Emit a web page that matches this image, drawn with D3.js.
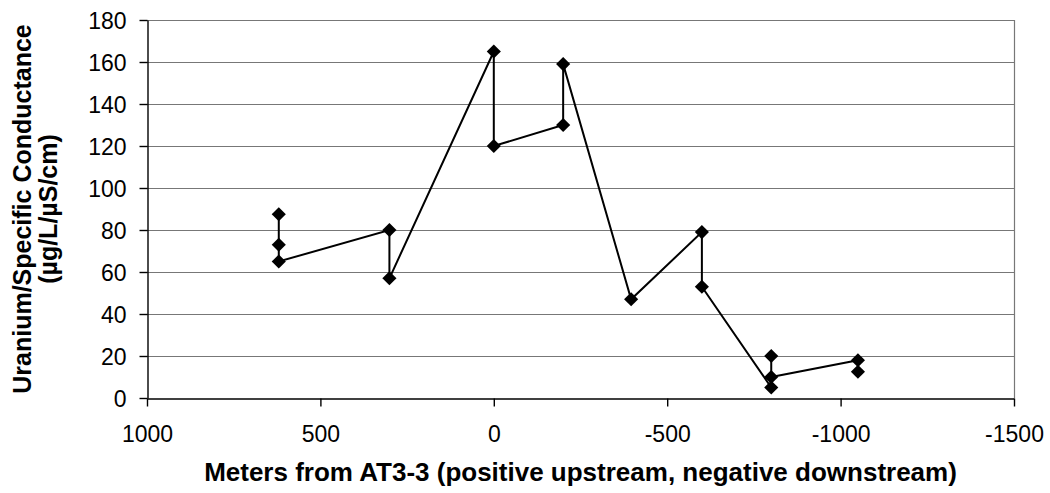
<!DOCTYPE html>
<html>
<head>
<meta charset="utf-8">
<script src="https://cdn.jsdelivr.net/npm/d3@7"></script>
<style>
  body { margin: 0; background: #fff; }
  svg { display: block; }
  text { font-family: "Liberation Sans", Arial, sans-serif; fill: #000; }
</style>
</head>
<body>
<div id="chart"></div>
<script>
// distance from AT3-3 (m) and uranium / specific conductance, in drawing order
const meters = [620, 620, 620, 301, 301, 0, 0, -200, -200, -396, -600, -600, -800, -800, -800, -1050, -1050];
const ratio  = [87.5, 73, 65, 80, 57, 165, 120, 130, 159, 47, 79, 53, 5, 20, 10, 18, 12.5];

const xTicks = [1000, 500, 0, -500, -1000, -1500];
const yTicks = [0, 20, 40, 60, 80, 100, 120, 140, 160, 180];

const width = 1050, height = 493;
const margin = { left: 147, right: 36, top: 20, bottom: 95 };

const svg = d3.select("#chart").append("svg")
    .attr("width", width)
    .attr("height", height);

const x = d3.scaleLinear().domain([1000, -1500]).range([margin.left, width - margin.right]);
const y = d3.scaleLinear().domain([0, 180]).range([height - margin.bottom, margin.top]);

// grid lines
svg.append("g")
  .selectAll("line")
  .data(yTicks.filter(d => d > 0))
  .enter().append("line")
    .attr("x1", x(1000)).attr("x2", x(-1500))
    .attr("y1", d => Math.round(y(d)) + 0.5).attr("y2", d => Math.round(y(d)) + 0.5)
    .attr("stroke", "#777")
    .attr("stroke-width", 1.2);

// plot border on the right
svg.append("line")
    .attr("x1", Math.round(x(-1500)) + 0.5).attr("x2", Math.round(x(-1500)) + 0.5)
    .attr("y1", y(180)).attr("y2", y(0))
    .attr("stroke", "#777")
    .attr("stroke-width", 1.2);

const xAxis = svg.append("g")
    .attr("transform", "translate(0," + (Math.round(y(0)) + 0.5) + ")")
    .call(d3.axisBottom(x).tickValues(xTicks).tickFormat(d => String(d))
      .tickSize(8).tickSizeOuter(0).tickPadding(19));

const yAxis = svg.append("g")
    .attr("transform", "translate(" + (Math.round(x(1000)) + 0.5) + ",0)")
    .call(d3.axisLeft(y).tickValues(yTicks).tickFormat(d => String(d))
      .tickSize(8).tickSizeOuter(0).tickPadding(13));

[xAxis, yAxis].forEach(function (g) {
  g.selectAll("path, line").attr("stroke", "#000").attr("stroke-width", 1.4);
  g.selectAll("text")
    .style("font-family", "'Liberation Sans', Arial, sans-serif")
    .style("font-size", "23px")
    .attr("fill", "#000");
});
yAxis.selectAll("text").attr("dy", "0.36em");

// data line and markers
const pts = meters.map((m, i) => [m, ratio[i]]);

svg.append("path")
    .datum(pts)
    .attr("fill", "none")
    .attr("stroke", "#000")
    .attr("stroke-width", 2)
    .attr("d", d3.line().x(d => x(d[0])).y(d => y(d[1])));

svg.append("g")
  .selectAll("path")
  .data(pts)
  .enter().append("path")
    .attr("d", d3.symbol(d3.symbolSquare, 100))
    .attr("transform", d => "translate(" + x(d[0]) + "," + y(d[1]) + ")rotate(45)")
    .attr("fill", "#000");

// axis titles
svg.append("text")
    .attr("x", (x(1000) + x(-1500)) / 2)
    .attr("y", 481)
    .attr("text-anchor", "middle")
    .style("font-size", "26px")
    .style("font-weight", "bold")
    .text("Meters from AT3-3 (positive upstream, negative downstream)");

const yt = svg.append("text")
    .attr("transform", "translate(0," + (y(0) + y(180)) / 2 + ")rotate(-90)")
    .attr("text-anchor", "middle")
    .style("font-size", "25px")
    .style("font-weight", "bold");
yt.append("tspan").attr("x", 0).attr("y", 31).text("Uranium/Specific Conductance");
yt.append("tspan").attr("x", 0).attr("y", 57).text("(µg/L/µS/cm)");
</script>
</body>
</html>
